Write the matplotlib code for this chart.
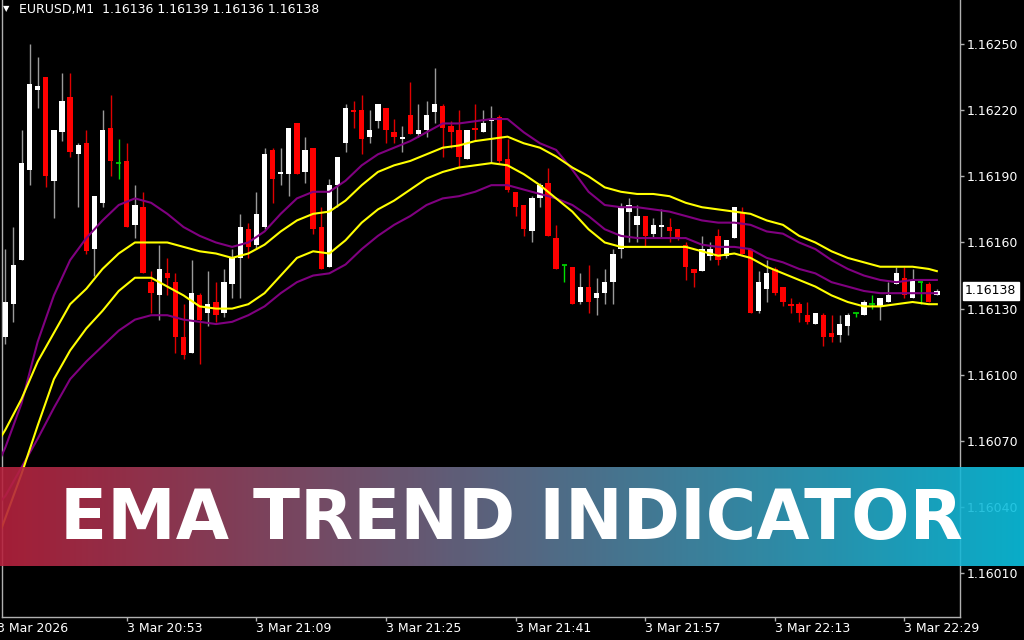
import numpy as np
import matplotlib
matplotlib.use("Agg")
import matplotlib.pyplot as plt
from matplotlib.transforms import blended_transform_factory

# EURUSD M1 candles, prices in points (1e-5)
opens = [116117, 116132, 116152, 116193, 116229, 116235, 116188, 116210, 116226, 116200,
         116205, 116157, 116178, 116212, 116196, 116197, 116168, 116176, 116142, 116136,
         116146, 116142, 116117, 116110, 116136, 116128, 116133, 116128, 116141, 116153,
         116166, 116159, 116167, 116202, 116191, 116191, 116214, 116192, 116203, 116167,
         116149, 116186, 116205, 116220, 116220, 116208, 116215, 116221, 116210, 116207,
         116218, 116209, 116211, 116219, 116222, 116213, 116211, 116198, 116212, 116210,
         116215, 116217, 116198, 116183, 116177, 116165, 116180, 116187, 116162, 116150,
         116149, 116133, 116140, 116135, 116137, 116142, 116157, 116174, 116168, 116172,
         116164, 116167, 116167, 116166, 116159, 116148, 116147, 116154, 116163, 116154,
         116162, 116174, 116157, 116129, 116139, 116148, 116140, 116132, 116132, 116127,
         116123, 116127, 116119, 116118, 116122, 116128, 116127, 116132, 116131, 116133,
         116141, 116144, 116135, 116142, 116141, 116136]
highs = [116157, 116167, 116211, 116250, 116244, 116235, 116211, 116237, 116237, 116205,
         116211, 116181, 116220, 116227, 116207, 116205, 116186, 116183, 116147, 116159,
         116153, 116146, 116132, 116152, 116137, 116147, 116142, 116148, 116157, 116173,
         116169, 116183, 116203, 116203, 116203, 116212, 116214, 116208, 116203, 116176,
         116189, 116199, 116223, 116224, 116227, 116220, 116223, 116221, 116216, 116213,
         116233, 116223, 116224, 116239, 116223, 116215, 116220, 116211, 116223, 116220,
         116222, 116218, 116207, 116183, 116177, 116181, 116187, 116194, 116168, 116150,
         116149, 116146, 116150, 116144, 116148, 116157, 116178, 116180, 116177, 116172,
         116171, 116175, 116171, 116166, 116160, 116148, 116163, 116160, 116166, 116161,
         116176, 116176, 116157, 116147, 116152, 116149, 116140, 116135, 116133, 116133,
         116128, 116128, 116127, 116127, 116128, 116128, 116134, 116136, 116135, 116142,
         116149, 116149, 116148, 116142, 116142, 116139]
lows = [116114, 116124, 116152, 116186, 116221, 116185, 116171, 116206, 116199, 116176,
        116155, 116145, 116176, 116190, 116189, 116167, 116162, 116146, 116128, 116125,
        116136, 116110, 116107, 116110, 116105, 116122, 116124, 116126, 116135, 116135,
        116153, 116157, 116166, 116178, 116186, 116181, 116191, 116187, 116164, 116148,
        116149, 116176, 116201, 116212, 116200, 116205, 116212, 116205, 116205, 116201,
        116209, 116208, 116208, 116214, 116199, 116203, 116194, 116198, 116206, 116210,
        116196, 116196, 116183, 116172, 116163, 116160, 116176, 116163, 116148, 116142,
        116132, 116132, 116128, 116127, 116132, 116132, 116153, 116160, 116160, 116158,
        116162, 116162, 116160, 116161, 116143, 116140, 116147, 116152, 116150, 116153,
        116162, 116155, 116128, 116128, 116133, 116136, 116131, 116128, 116124, 116123,
        116123, 116113, 116115, 116115, 116118, 116126, 116127, 116130, 116125, 116133,
        116141, 116135, 116135, 116132, 116133, 116136]
closes = [116133, 116150, 116196, 116232, 116231, 116190, 116211, 116224, 116201, 116204,
          116156, 116181, 116211, 116197, 116196, 116167, 116177, 116146, 116137, 116148,
          116144, 116117, 116109, 116137, 116125, 116132, 116127, 116142, 116153, 116167,
          116158, 116173, 116200, 116189, 116192, 116212, 116191, 116202, 116166, 116148,
          116186, 116199, 116221, 116219, 116207, 116211, 116223, 116211, 116208, 116208,
          116209, 116211, 116218, 116223, 116212, 116210, 116199, 116211, 116211, 116214,
          116216, 116197, 116184, 116176, 116166, 116180, 116186, 116163, 116148, 116150,
          116132, 116140, 116133, 116137, 116142, 116155, 116176, 116177, 116172, 116163,
          116168, 116168, 116165, 116162, 116149, 116146, 116157, 116157, 116152, 116161,
          116176, 116155, 116128, 116142, 116146, 116137, 116133, 116131, 116128, 116124,
          116128, 116117, 116117, 116123, 116127, 116128, 116133, 116132, 116135, 116136,
          116146, 116136, 116143, 116142, 116133, 116138]

first_bar = "20:38"
tick_times = ["20:37", "20:53", "21:09", "21:25", "21:41", "21:57", "22:13", "22:29"]
tick_labels = ["3 Mar 2026", "3 Mar 20:53", "3 Mar 21:09", "3 Mar 21:25",
               "3 Mar 21:41", "3 Mar 21:57", "3 Mar 22:13", "3 Mar 22:29"]

# EMA envelope lines sampled at bar numbers (points)
ema_bars = [-1, 0] + list(range(2, 115, 2)) + [115]
ema_yellow_hi = [116069, 116075, 116089, 116106, 116119, 116132, 116139, 116148, 116155, 116160,
                 116160, 116160, 116158, 116156, 116155, 116153, 116155, 116159, 116165, 116170,
                 116173, 116174, 116179, 116186, 116192, 116195, 116197, 116200, 116203, 116204,
                 116206, 116207, 116208, 116205, 116203, 116199, 116194, 116190, 116185, 116183,
                 116182, 116182, 116181, 116178, 116176, 116175, 116174, 116173, 116170, 116168,
                 116163, 116160, 116156, 116153, 116151, 116149, 116149, 116149, 116148, 116147]
ema_yellow_lo = [116025, 116035, 116055, 116077, 116098, 116111, 116121, 116129, 116138, 116144,
                 116144, 116140, 116136, 116131, 116130, 116130, 116132, 116137, 116145, 116153,
                 116156, 116155, 116161, 116169, 116175, 116179, 116184, 116189, 116192, 116194,
                 116195, 116196, 116195, 116191, 116186, 116180, 116174, 116166, 116160, 116158,
                 116158, 116158, 116158, 116158, 116156, 116154, 116155, 116153, 116149, 116146,
                 116143, 116140, 116136, 116133, 116131, 116131, 116132, 116133, 116132, 116132]
ema_purple_hi = [116059, 116067, 116087, 116115, 116136, 116152, 116162, 116170, 116177, 116180,
                 116178, 116173, 116167, 116163, 116160, 116158, 116160, 116165, 116173, 116180,
                 116183, 116183, 116188, 116195, 116200, 116203, 116206, 116210, 116214, 116214,
                 116215, 116216, 116216, 116210, 116205, 116202, 116193, 116183, 116177, 116176,
                 116176, 116175, 116174, 116172, 116170, 116169, 116169, 116168, 116165, 116164,
                 116160, 116157, 116152, 116148, 116145, 116143, 116142, 116143, 116143, 116143]
ema_purple_lo = [116041, 116045, 116058, 116071, 116085, 116098, 116106, 116113, 116120, 116125,
                 116127, 116127, 116125, 116124, 116123, 116124, 116127, 116131, 116137, 116142,
                 116145, 116146, 116150, 116157, 116163, 116168, 116172, 116177, 116180, 116181,
                 116183, 116186, 116186, 116184, 116182, 116180, 116177, 116172, 116166, 116163,
                 116162, 116162, 116162, 116162, 116159, 116158, 116158, 116157, 116153, 116151,
                 116148, 116146, 116142, 116140, 116138, 116137, 116137, 116137, 116137, 116137]

price_ticks = [1.16010, 1.16040, 1.16070, 1.16100, 1.16130, 1.16160, 1.16190, 1.16220, 1.16250]
symbol = "EURUSD,M1"
banner_text = "EMA TREND INDICATOR"


def minutes(t):
    hh, mm = t.split(":")
    return int(hh) * 60 + int(mm)


o = np.array(opens) / 1e5
h = np.array(highs) / 1e5
l = np.array(lows) / 1e5
c = np.array(closes) / 1e5
x = np.arange(len(o))

up = c > o
down = c < o
doji = c == o

fig = plt.figure(figsize=(10.24, 6.4), dpi=100, facecolor="black")
ax = fig.add_axes([2 / 1024, 23 / 640, 958 / 1024, 617 / 640])
ax.set_facecolor("black")

# wicks
wick_col = np.where(up, "#9a9a9a", np.where(down, "#e00000", "#00e000"))
ax.vlines(x, l, h, colors=list(wick_col), lw=1.0, zorder=2)

# bodies
body_w = 0.66
bottom = np.minimum(o, c)
height = np.maximum(np.abs(c - o), 0.4e-5)
ax.bar(x[up], height[up], bottom=bottom[up], width=body_w, color="white", lw=0, zorder=3)
ax.bar(x[down], height[down], bottom=bottom[down], width=body_w, color="#ff0000", lw=0, zorder=3)
ax.hlines(o[doji], x[doji] - body_w / 2, x[doji] + body_w / 2, colors="#00e000", lw=1.2, zorder=3)

# EMA lines
for vals, col in [(ema_purple_lo, "#800080"), (ema_purple_hi, "#800080"),
                  (ema_yellow_lo, "#ffff00"), (ema_yellow_hi, "#ffff00")]:
    ax.plot(ema_bars, np.array(vals) / 1e5, color=col, lw=1.5, zorder=4)

ax.set_xlim(-0.41, 117.86)
ax.set_ylim(1.159901, 1.162700)

for s in ["left", "right", "bottom"]:
    ax.spines[s].set_color("#b0b0b0")
    ax.spines[s].set_linewidth(1.0)
ax.spines["top"].set_visible(False)

# price axis
ax.yaxis.tick_right()
ax.set_yticks(price_ticks)
ax.set_yticklabels(["%.5f" % p for p in price_ticks])
ax.tick_params(axis="y", colors="#b0b0b0", labelcolor="white", labelsize=9,
               length=3, width=1, pad=2)

# time axis
start = minutes(first_bar)
tick_idx = [minutes(t) - start for t in tick_times]
ax.set_xticks([i for i in tick_idx if i >= ax.get_xlim()[0]])
ax.set_xticklabels([])
ax.tick_params(axis="x", colors="#b0b0b0", length=3, width=1)
tr = blended_transform_factory(ax.transData, ax.transAxes)
for i, lab in zip(tick_idx, tick_labels):
    ax.text(i, -11 / 617, lab, transform=tr, ha="left", va="center",
            color="white", fontsize=9, clip_on=False)

# current price label
last = c[-1]
tr_y = blended_transform_factory(ax.transAxes, ax.transData)
ax.text(1 + 5 / 958, last, "%.5f" % last, transform=tr_y, ha="left", va="center",
        color="black", fontsize=9, clip_on=False,
        bbox=dict(boxstyle="square,pad=0.2", fc="white", ec="white"))

# header
fig.text(19 / 1024, 1 - 10 / 640,
         "%s  %.5f %.5f %.5f %.5f" % (symbol, o[-1], h[-1], l[-1], c[-1]),
         color="white", fontsize=9, va="center", ha="left")
fig.text(3 / 1024, 1 - 9 / 640, "\u25bc", color="white", fontsize=6, va="center", ha="left")

# banner
alpha = 0.9
left_col = np.array([165, 30, 55]) / 255
right_col = np.array([10, 174, 202]) / 255
t = np.linspace(0, 1, 512)[None, :, None]
grad = np.clip((left_col * (1 - t) + right_col * t) / alpha, 0, 1)
bax = fig.add_axes([0, (640 - 566) / 640, 1, 99 / 640])
bax.imshow(grad, aspect="auto", extent=[0, 1, 0, 1], alpha=alpha)
bax.set_xlim(0, 1)
bax.set_ylim(0, 1)
bax.axis("off")
size = 50
txt = bax.text(0.499, (566 - 539) / 99, banner_text, ha="center", va="baseline",
               color="white", fontsize=size, family="DejaVu Sans", weight="bold")
fig.canvas.draw()
w = txt.get_window_extent().width
txt.set_fontsize(size * 904 / w)

fig.savefig("out.png", dpi=100, facecolor="black")
